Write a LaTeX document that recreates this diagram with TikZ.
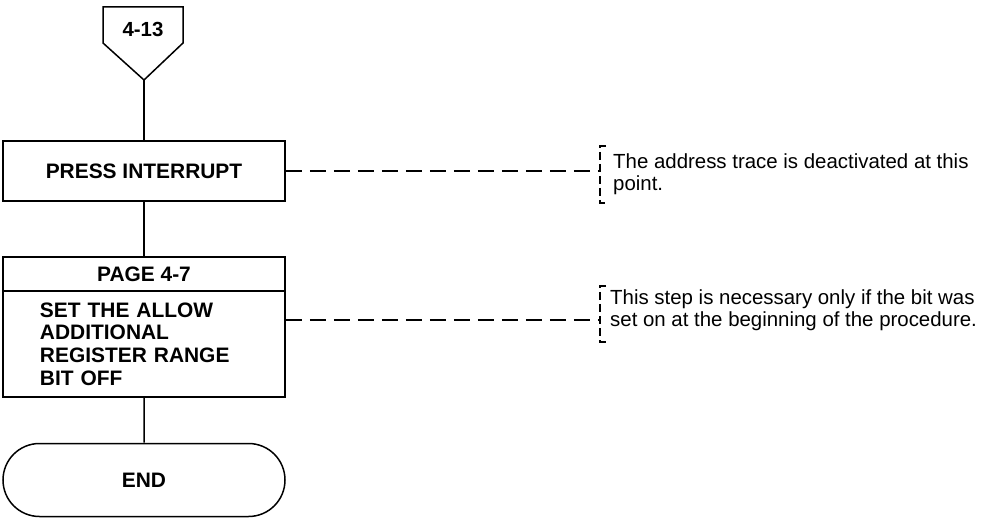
\documentclass[tikz,border=0pt]{standalone}
\usepackage{fontspec}
\setmainfont{Liberation Sans}
\usetikzlibrary{shapes.misc}

\tikzset{
  kasten/.style={draw,line width=1.5bp,minimum width=282bp,inner sep=0pt,
    font=\bfseries\fontsize{21}{22.7}\selectfont},
  fluss/.style={line width=1.5bp},
  hinweis/.style={line width=1.3bp,dash pattern=on 16bp off 8bp},
  klammer/.style={line width=1.3bp,dash pattern=on 8bp off 4bp},
  notiz/.style={anchor=base west,align=left,inner sep=0pt,
    font=\fontsize{20.5}{22.5}\selectfont},
}

\begin{document}
\begin{tikzpicture}[yscale=-1,x=1bp,y=1bp]
  \useasboundingbox (0,0) rectangle (992,521);

  % --- Seitenverbinder oben (Fuenfeck mit Spitze nach unten) ---
  \draw[fluss] (103,7) -- (183,7) -- (183,43) -- (144,80) -- (103,43) -- cycle;
  \node[font=\bfseries\fontsize{20.5}{22}\selectfont] (verbinder) at (143,29) {4-13};
  \coordinate (spitze) at (144,80);

  % ======================================================================
  % Ablauf: Kaesten untereinander
  % ======================================================================
  \node[kasten,minimum height=60bp] (interrupt) at (144,171) {PRESS INTERRUPT};
  \node[kasten,minimum height=34bp] (seite) at (144,274) {PAGE 4-7};
  \node[kasten,minimum height=106bp,align=left,text width=208bp,inner xsep=37bp]
    (bitaus) at (144,344) {SET THE ALLOW\\ADDITIONAL\\REGISTER RANGE\\BIT OFF};
  \node[kasten,rounded rectangle,minimum height=73bp] (ende) at (144,480) {END};

  \draw[fluss] (spitze) -- (interrupt);
  \draw[fluss] (interrupt) -- (seite);
  \draw[fluss] (bitaus) -- (ende);

  % ======================================================================
  % Anmerkungen rechts, gestrichelt angebunden
  % (base west = Grundlinie der letzten Zeile)
  % ======================================================================
  \coordinate (klammer1) at (600,171);
  \draw[hinweis] (interrupt.east) -- (klammer1);
  \draw[klammer] (606,146) -- (600,146) -- (600,203) -- (606,203);
  \node[notiz] (notiz1) at (613,191) {The address trace is deactivated at this\\point.};

  \coordinate (klammer2) at (600,320);
  \draw[hinweis] (bitaus.east |- klammer2) -- (klammer2);
  \draw[klammer] (606,286) -- (600,286) -- (600,342) -- (606,342);
  \node[notiz] (notiz2) at (610,327) {This step is necessary only if the bit was\\set on at the beginning of the procedure.};

\end{tikzpicture}
\end{document}
